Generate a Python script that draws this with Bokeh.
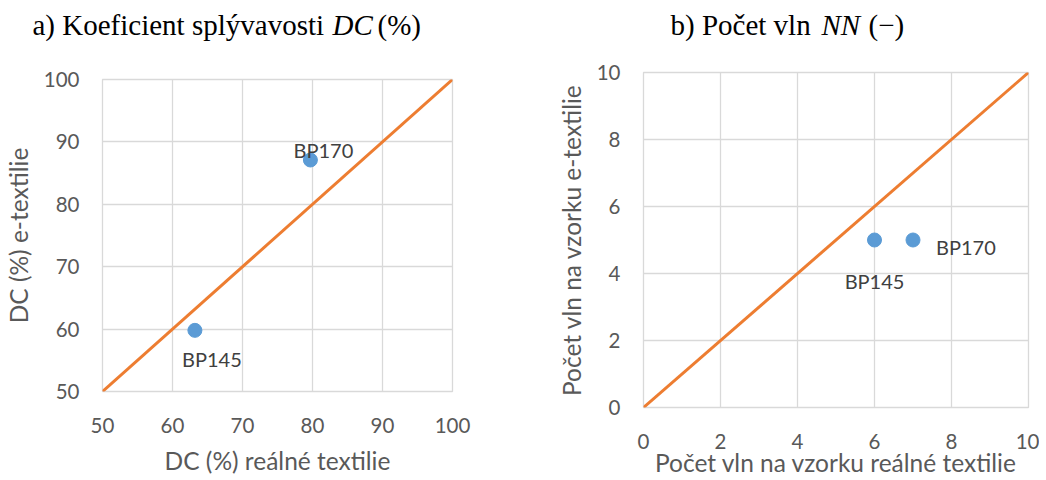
from bokeh.plotting import figure
from bokeh.layouts import row, column
from bokeh.models import ColumnDataSource, Range1d, FixedTicker, Spacer
from bokeh.embed import file_html
from bokeh.resources import INLINE
from bokeh.core.properties import value

# ---- data ----
dc_names = ["BP145", "BP170"]
dc_real = [63.2, 79.7]
dc_etex = [59.8, 87.1]
dc_ref_x = [50, 100]
dc_ref_y = [50, 100]
dc_ticks = [50, 60, 70, 80, 90, 100]

nn_names = ["BP145", "BP170"]
nn_real = [6, 7]
nn_etex = [5, 5]
nn_ref_x = [0, 10]
nn_ref_y = [0, 10]
nn_ticks = [0, 2, 4, 6, 8, 10]

title_texts = ["a) Koeficient splývavosti", "DC", "(%)",
               "b) Počet vln", "NN", "(−)"]

# ---- styles ----
GRID = "#d9d9d9"
TXT = "#595959"
LBL = "#404040"
BLUE = "#5b9bd5"
ORANGE = "#ed7d31"
SANS = "Lato"
SERIF = "Liberation Serif"
TITLE_H = 48


def make_fig(xs, ys, names, refx, refy, ticks, xlab, ylab, fw, fh, borders,
             off_x, off_y, aligns, xl_standoff):
    bl, br, bt, bb = borders
    p = figure(frame_width=fw, frame_height=fh, min_border_left=bl,
               min_border_right=br, min_border_top=bt, min_border_bottom=bb,
               x_range=Range1d(ticks[0], ticks[-1]), y_range=Range1d(ticks[0], ticks[-1]),
               output_backend="svg", toolbar_location=None)
    p.outline_line_color = GRID
    p.outline_line_width = 1.3
    for ax in (p.xaxis[0], p.yaxis[0]):
        ax.ticker = FixedTicker(ticks=ticks)
        ax.axis_line_color = None
        ax.major_tick_line_color = None
        ax.minor_tick_line_color = None
        ax.major_label_text_font = SANS
        ax.major_label_text_font_size = "20.5px"
        ax.major_label_text_color = TXT
        ax.axis_label_text_font = SANS
        ax.axis_label_text_font_size = "24.5px"
        ax.axis_label_text_font_style = "normal"
        ax.axis_label_text_color = TXT
    p.xaxis.axis_label = xlab
    p.yaxis.axis_label = ylab
    p.xaxis.major_label_standoff = 20
    p.yaxis.major_label_standoff = 17
    p.xaxis.axis_label_standoff = xl_standoff
    p.yaxis.axis_label_standoff = 8
    for g in (p.xgrid[0], p.ygrid[0]):
        g.grid_line_color = GRID
        g.grid_line_width = 1.3

    p.line(refx, refy, line_color=ORANGE, line_width=3)
    src = ColumnDataSource(dict(x=xs, y=ys, name=names, ox=off_x, oy=off_y, al=aligns))
    p.scatter("x", "y", source=src, size=14, fill_color=BLUE, line_color=BLUE)
    p.text("x", "y", text="name", source=src, x_offset="ox", y_offset="oy",
           text_align="al", text_baseline="alphabetic",
           text_font=value(SANS), text_font_size="20px", text_color=LBL)
    return p


# title strip
t = figure(width=1032, height=TITLE_H, x_range=Range1d(0, 1032), y_range=Range1d(0, TITLE_H),
           min_border=0, x_axis_type=None, y_axis_type=None,
           output_backend="svg", toolbar_location=None)
t.outline_line_color = None
t.xgrid.visible = False
t.ygrid.visible = False
tsrc = ColumnDataSource(dict(
    x=[32, 332, 377, 670, 821, 868],
    y=[24] * 6,
    text=title_texts,
    style=["normal", "italic", "normal", "normal", "italic", "normal"],
))
t.text("x", "y", text="text", source=tsrc, text_font=value(SERIF),
       text_font_size="29px", text_font_style="style", text_color="black",
       text_align="left", text_baseline="alphabetic")

p1 = make_fig(dc_real, dc_etex, dc_names, dc_ref_x, dc_ref_y, dc_ticks,
              "DC (%) reálné textilie", "DC (%) e-textilie",
              350, 312, (95, 75, 24, 60),
              [17, 13], [29, -10], ["center", "center"], 10)

p2 = make_fig(nn_real, nn_etex, nn_names, nn_ref_x, nn_ref_y, nn_ticks,
              "Počet vln na vzorku reálné textilie", "Počet vln na vzorku e-textilie",
              385, 335, (116, 11, 24, 60),
              [0, 23], [41, 7], ["center", "left"], -4)

layout = column(t, row(column(Spacer(height=7), p1), p2))
open("out.html", "w").write(file_html(layout, INLINE))
